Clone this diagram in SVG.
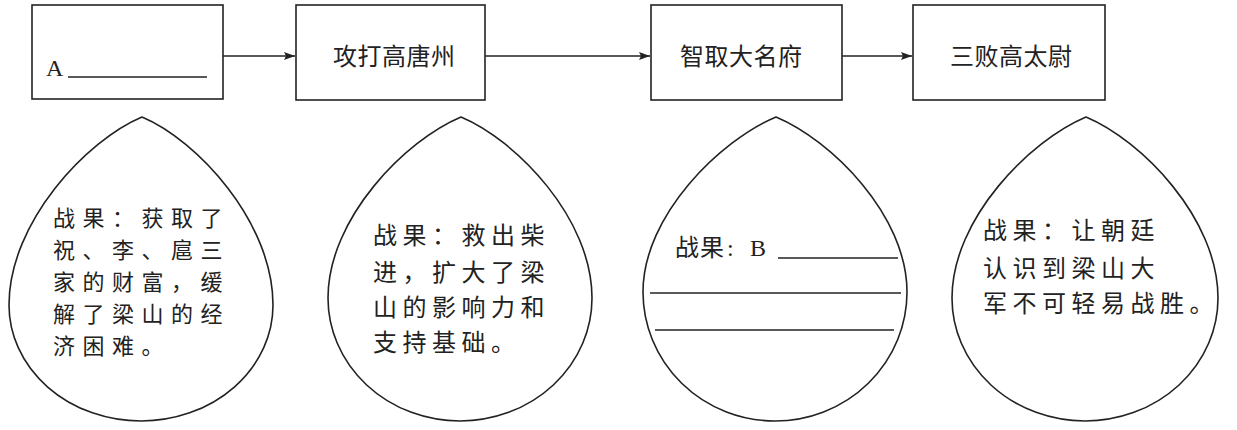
<svg xmlns="http://www.w3.org/2000/svg" width="1237" height="430" viewBox="0 0 1237 430">
<defs>
<style>
.box{fill:#fff;stroke:#222;stroke-width:1.6}
.drop{fill:#fff;stroke:#222;stroke-width:1.6}
.conn{stroke:#222;stroke-width:1.6;fill:none}
.rule{stroke:#222;stroke-width:1.5}
.cjk{font-family:"Noto Sans CJK SC","Noto Sans",sans-serif;font-size:24px;fill:#222}
.body{letter-spacing:5.5px}
.tight{font-size:22px;letter-spacing:7.5px}
.lat{font-family:"Liberation Serif",serif;font-size:24px;fill:#222}
</style>
<marker id="ah" markerWidth="12" markerHeight="10" refX="11" refY="5" orient="auto" markerUnits="userSpaceOnUse">
<path d="M0,1 L11,5 L0,9 L2,5 Z" fill="#222"/>
</marker>
</defs>

<g id="connectors">
<line class="conn" x1="223" y1="56" x2="295" y2="56" marker-end="url(#ah)"/>
<line class="conn" x1="485" y1="56" x2="650" y2="56" marker-end="url(#ah)"/>
<line class="conn" x1="842" y1="56" x2="912" y2="56" marker-end="url(#ah)"/>
</g>

<g id="node-a">
<rect class="box" x="32" y="5" width="191" height="94"/>
<text class="lat" x="46" y="76">A</text>
<line class="rule" x1="68" y1="77" x2="207" y2="77"/>
</g>

<g id="node-gaotangzhou">
<rect class="box" x="296" y="5" width="189" height="95"/>
<text class="cjk" x="333" y="65" style="letter-spacing:0.5px">攻打高唐州</text>
</g>

<g id="node-damingfu">
<rect class="box" x="651" y="5" width="191" height="95"/>
<text class="cjk" x="680" y="65" style="letter-spacing:0.5px">智取大名府</text>
</g>

<g id="node-gaotaiwei">
<rect class="box" x="913" y="5" width="192" height="95"/>
<text class="cjk" x="950" y="65" style="letter-spacing:0.5px">三败高太尉</text>
</g>

<g id="drop-1">
<path class="drop" d="M142,117 C197,140 273,222 273,305 A132,116 0 0 1 9,305 C9,222 87,140 142,117 Z"/>
<text class="cjk tight">
<tspan x="53" y="226">战果：获取了</tspan>
<tspan x="53" y="258">祝、李、扈三</tspan>
<tspan x="53" y="290">家的财富，缓</tspan>
<tspan x="53" y="322">解了梁山的经</tspan>
<tspan x="53" y="354">济困难。</tspan>
</text>
</g>

<g id="drop-2">
<path class="drop" d="M461,117 C516,140 592,218 592,298 A132,123 0 0 1 328,298 C328,218 406,140 461,117 Z"/>
<text class="cjk body">
<tspan x="373" y="244">战果：救出柴</tspan>
<tspan x="373" y="281">进，扩大了梁</tspan>
<tspan x="373" y="316">山的影响力和</tspan>
<tspan x="373" y="351">支持基础。</tspan>
</text>
</g>

<g id="drop-3">
<path class="drop" d="M776,117 C831,140 907,215 907,292 A132,129 0 0 1 643,292 C643,215 721,140 776,117 Z"/>
<text class="cjk" x="675" y="256" style="letter-spacing:1px">战果</text>
<text class="lat" x="727" y="256">:</text>
<text class="lat" x="750" y="256">B</text>
<line class="rule" x1="778" y1="258" x2="898" y2="258"/>
<line class="rule" x1="650" y1="293" x2="901" y2="293"/>
<line class="rule" x1="655" y1="330" x2="894" y2="330"/>
</g>

<g id="drop-4">
<path class="drop" d="M1086,117 C1141,140 1218,218 1218,298 A133,123 0 0 1 952,298 C952,218 1031,140 1086,117 Z"/>
<text class="cjk body">
<tspan x="983" y="239">战果：让朝廷</tspan>
<tspan x="983" y="277">认识到梁山大</tspan>
<tspan x="983" y="312">军不可轻易战胜。</tspan>
</text>
</g>
</svg>
